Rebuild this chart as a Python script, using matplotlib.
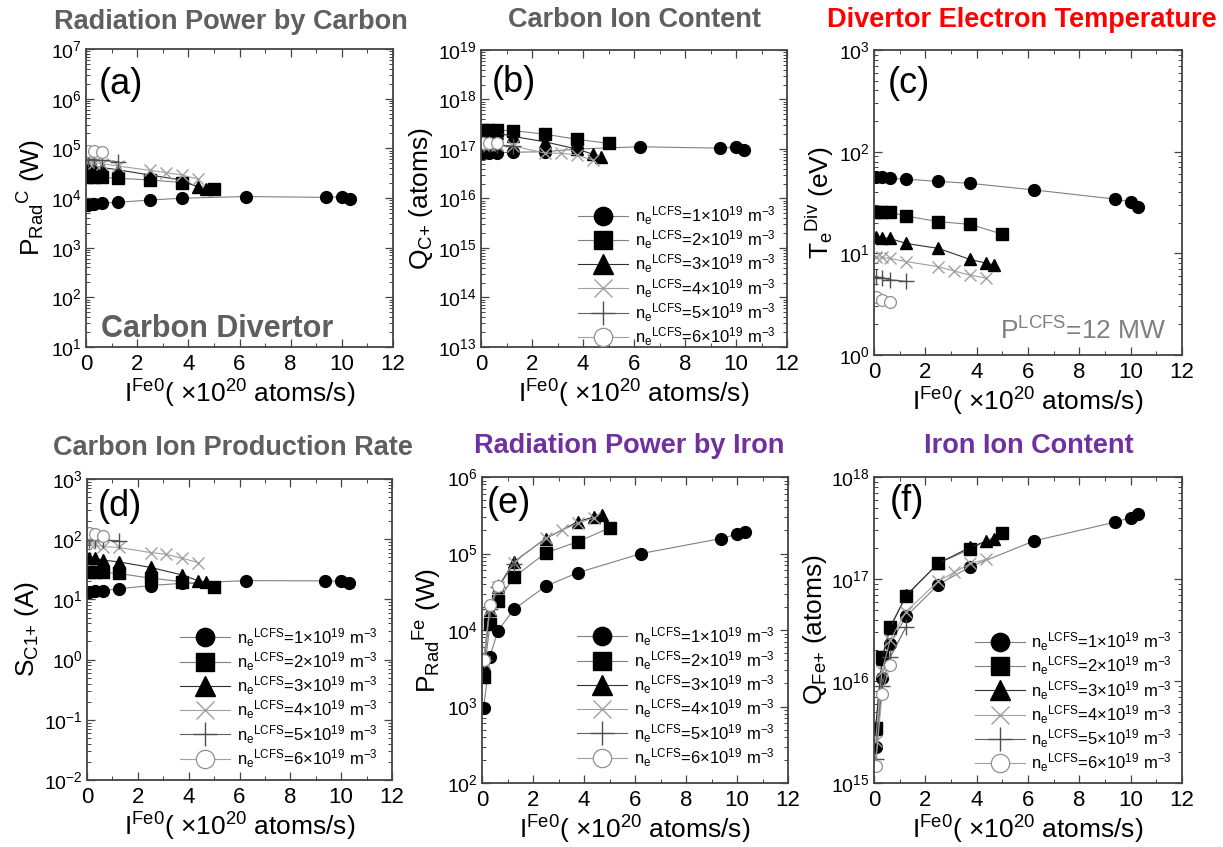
import numpy as np
import matplotlib
matplotlib.use("Agg")
import matplotlib.pyplot as plt
from matplotlib.ticker import LogLocator, MultipleLocator, NullFormatter

plt.rcParams['font.family'] = ['Liberation Sans', 'DejaVu Sans']
plt.rcParams['mathtext.fontset'] = 'custom'
plt.rcParams['mathtext.rm'] = 'Liberation Sans'
plt.rcParams['mathtext.it'] = 'Liberation Sans'
plt.rcParams['mathtext.default'] = 'regular'

# iron puff rate I^Fe0 (x 10^20 atoms/s) for each n_e^LCFS case
x_n1 = [0.0625, 0.3125, 0.625, 1.25, 2.5, 3.75, 6.25, 9.375, 10.0, 10.3]
x_n2 = [0.0625, 0.3125, 0.625, 1.25, 2.5, 3.75, 5.0]
x_n3 = [0.0625, 0.3125, 0.625, 1.25, 2.5, 3.75, 4.375, 4.6875]
x_n4 = [0.0625, 0.3125, 0.625, 1.25, 2.5, 3.125, 3.75, 4.375]
x_n5 = [0.0625, 0.3125, 0.625, 1.25]
x_n6 = [0.0625, 0.3125, 0.625]
x_all = [x_n1, x_n2, x_n3, x_n4, x_n5, x_n6]

# (a) P_Rad^C (W)
prad_c = [
    [7.2e3, 7.4e3, 7.9e3, 8.2e3, 9.1e3, 9.9e3, 1.07e4, 1.03e4, 1.06e4, 9.6e3],
    [2.7e4, 2.7e4, 2.6e4, 2.5e4, 2.3e4, 2.05e4, 1.5e4],
    [4.3e4, 4.3e4, 4.1e4, 3.7e4, 2.9e4, 2.3e4, 1.65e4, 1.5e4],
    [5.2e4, 5.1e4, 4.9e4, 4.4e4, 3.6e4, 3.25e4, 2.9e4, 2.4e4],
    [6.0e4, 5.9e4, 5.7e4, 5.4e4],
    [8.8e4, 8.7e4, 8.5e4],
]
# (b) Q_C+ (atoms)
q_c = [
    [8.2e16, 8.2e16, 8.4e16, 8.6e16, 8.8e16, 1.0e17, 1.11e17, 1.04e17, 1.1e17, 9.6e16],
    [2.45e17, 2.45e17, 2.4e17, 2.35e17, 2.0e17, 1.57e17, 1.3e17],
    [2.2e17, 2.2e17, 2.1e17, 1.8e17, 1.4e17, 1.0e17, 7.9e16, 6.8e16],
    [1.2e17, 1.2e17, 1.18e17, 1.15e17, 8.3e16, 8.2e16, 7.6e16, 6.0e16],
    [1.25e17, 1.25e17, 1.2e17, 1.15e17],
    [1.32e17, 1.3e17, 1.3e17],
]
# (c) T_e^Div (eV)
te_div = [
    [56.8, 56.5, 54.6, 53.6, 51.0, 48.8, 42.0, 34.2, 32.0, 28.7],
    [25.7, 25.5, 25.3, 23.3, 20.5, 19.3, 15.4],
    [14.6, 14.3, 14.0, 12.5, 11.2, 8.7, 8.0, 7.7],
    [9.3, 9.1, 8.9, 8.3, 7.4, 6.7, 6.1, 5.7],
    [5.9, 5.7, 5.5, 5.3],
    [3.75, 3.5, 3.35],
]
# (d) S_C1+ (A)
s_c = [
    [13.5, 13.7, 14.0, 15.0, 17.0, 18.5, 20.5, 20.3, 20.0, 18.5],
    [29.0, 29.0, 28.0, 27.0, 22.5, 19.7, 15.9],
    [48.0, 48.0, 45.0, 42.0, 34.0, 25.4, 20.4, 19.7],
    [85.0, 82.0, 75.0, 73.0, 60.0, 56.0, 48.0, 41.0],
    [98.0, 97.0, 96.0, 95.0],
    [125.0, 122.0, 113.0],
]
# (e) P_Rad^Fe (W)
prad_fe = [
    [950, 4.5e3, 9.8e3, 1.86e4, 3.75e4, 5.6e4, 1.0e5, 1.57e5, 1.79e5, 1.92e5],
    [2.4e3, 1.2e4, 2.4e4, 4.9e4, 1.02e5, 1.42e5, 2.16e5],
    [3.5e3, 1.8e4, 3.6e4, 7.8e4, 1.57e5, 2.6e5, 3.0e5, 3.2e5],
    [3.8e3, 1.9e4, 3.6e4, 7.6e4, 1.6e5, 2.0e5, 2.5e5, 2.9e5],
    [4.0e3, 1.9e4, 3.6e4, 7.4e4],
    [4.1e3, 2.1e4, 3.8e4],
]
# (f) Q_Fe+ (atoms)
q_fe = [
    [2.26e15, 1.08e16, 2.3e16, 4.3e16, 8.8e16, 1.32e17, 2.37e17, 3.6e17, 4.0e17, 4.35e17],
    [3.5e15, 1.7e16, 3.4e16, 6.8e16, 1.43e17, 1.96e17, 2.85e17],
    [3.4e15, 1.65e16, 3.3e16, 6.9e16, 1.42e17, 2.05e17, 2.35e17, 2.45e17],
    [2.6e15, 1.25e16, 2.5e16, 4.8e16, 9.5e16, 1.16e17, 1.42e17, 1.56e17],
    [1.7e15, 9e15, 1.7e16, 3.4e16],
    [1.48e15, 7.5e15, 1.43e16],
]

dens = [1, 2, 3, 4, 5, 6]
labels = [r'n$_e$$^{LCFS}$=%d$\times$10$^{19}$ m$^{-3}$' % d for d in dens]

styles = [
    dict(marker='o', ms=8.5, mfc='k', mec='k', color='#808080'),
    dict(marker='s', ms=8, mfc='k', mec='k', color='#808080'),
    dict(marker='^', ms=9, mfc='k', mec='k', color='#303030'),
    dict(marker='x', ms=8.5, mfc='none', mec='#a0a0a0', mew=1.0, color='#a0a0a0'),
    dict(marker='+', ms=11, mfc='none', mec='#505050', mew=1.0, color='#606060'),
    dict(marker='o', ms=8.5, mfc='white', mec='#909090', mew=0.9, color='#a0a0a0'),
]

W, H = 1223, 847
fig = plt.figure(figsize=(W / 100, H / 100), dpi=100)


def add_ax(l, r, t, b):
    return fig.add_axes([l / W, 1 - b / H, (r - l) / W, (b - t) / H])


GRAY = '#5f5f5f'
PURPLE = '#7030a0'
RED = '#ff0000'

panels = [
    # box (l, r, t, b), data, ylim, ylabel, title, title colour, title pos, tag pos, legend anchor
    ((86, 393, 49, 347), prad_c, (1e1, 1e7), r'P$_{Rad}$$^{C}$ (W)',
     'Radiation Power by Carbon', GRAY, (231, 22), (0.04, 0.88), None),
    ((481, 787, 50, 347), q_c, (1e13, 1e19), r'Q$_{C{+}}$ (atoms)',
     'Carbon Ion Content', GRAY, (634, 20), (0.036, 0.89), (1.0, -0.043)),
    ((874, 1182, 50, 355), te_div, (1e0, 1e3), r'T$_e$$^{Div}$ (eV)',
     'Divertor Electron Temperature', RED, (1022, 20), (0.045, 0.89), None),
    ((87, 392, 479, 780), s_c, (1e-2, 1e3), r'S$_{C1{+}}$ (A)',
     'Carbon Ion Production Rate', GRAY, (233, 448), (0.036, 0.91), (0.99, -0.005)),
    ((482, 788, 477, 783), prad_fe, (1e2, 1e6), r'P$_{Rad}$$^{Fe}$ (W)',
     'Radiation Power by Iron', PURPLE, (629, 446), (0.016, 0.915), (0.995, 0.008)),
    ((874, 1182, 477, 783), q_fe, (1e15, 1e18), r'Q$_{Fe{+}}$ (atoms)',
     'Iron Ion Content', PURPLE, (1029, 446), (0.052, 0.92), (1.005, -0.01)),
]
tags = ['(a)', '(b)', '(c)', '(d)', '(e)', '(f)']

for i, (box, data, ylim, ylab, title, tcol, tpos, tagpos, leg) in enumerate(panels):
    ax = add_ax(*box)
    for xs, ys, st, lab in zip(x_all, data, styles, labels):
        ax.plot(xs, ys, lw=0.8, label=lab, **st)
    ax.set_yscale('log')
    ax.set_ylim(*ylim)
    ax.set_xlim(0, 12)
    ax.xaxis.set_major_locator(MultipleLocator(2))
    ax.xaxis.set_minor_locator(MultipleLocator(1))
    ax.yaxis.set_major_locator(LogLocator(base=10, numticks=20))
    ax.yaxis.set_minor_locator(LogLocator(base=10, subs=np.arange(2, 10), numticks=20))
    ax.yaxis.set_minor_formatter(NullFormatter())
    ax.tick_params(which='both', direction='in', top=True, right=True, color='#444444')
    ax.tick_params(which='major', length=6, width=0.9)
    ax.tick_params(which='minor', length=3, width=0.7)
    ax.tick_params(axis='x', labelsize=16, pad=5)
    ax.tick_params(axis='y', labelsize=14, pad=3)
    for sp in ax.spines.values():
        sp.set_color('#444444')
        sp.set_linewidth(1.3)
    ax.set_xlabel(r'I$^{Fe0}$( $\times$10$^{20}$ atoms/s)', fontsize=19, labelpad=2)
    ax.set_ylabel(ylab, fontsize=19, labelpad=2)
    ax.text(tagpos[0], tagpos[1], tags[i], transform=ax.transAxes, fontsize=26,
            ha='left', va='center')
    fig.text(tpos[0] / W, 1 - tpos[1] / H, title, color=tcol, fontsize=19.5,
             fontweight='bold', ha='center', va='center')
    if leg is not None:
        ax.legend(loc='lower right', bbox_to_anchor=leg, frameon=False,
                  fontsize=12, markerscale=1.55, handlelength=3.0,
                  handletextpad=0.4, labelspacing=0.1, borderaxespad=0.3)
    if i == 0:
        ax.text(0.427, 0.06, 'Carbon Divertor', transform=ax.transAxes, fontsize=22,
                fontweight='bold', color=GRAY, ha='center', va='center')
    if i == 2:
        ax.text(0.95, 0.08, r'P$^{LCFS}$=12 MW', transform=ax.transAxes, fontsize=19,
                color='#808080', ha='right', va='center')

plt.savefig('out.png', dpi=100)
